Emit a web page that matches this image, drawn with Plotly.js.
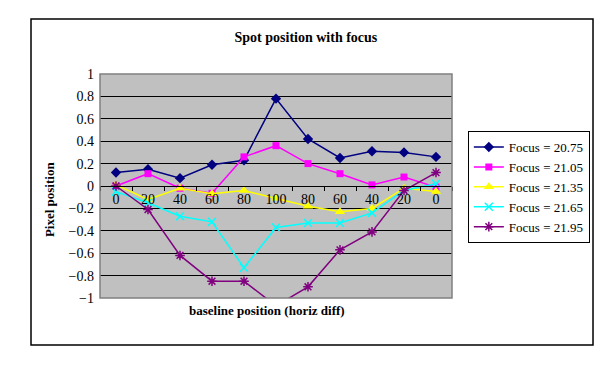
<!DOCTYPE html>
<html>
<head>
<meta charset="utf-8">
<script src="https://cdn.plot.ly/plotly-3.0.1.min.js"></script>
<style>
  body { margin: 0; background: #fff; }
  #chart { width: 616px; height: 382px; }
</style>
</head>
<body>
<div id="chart"></div>
<script>
// baseline positions (the scan goes 0 -> 100 -> 0)
const baselineLabels = ['0', '20', '40', '60', '80', '100', '80', '60', '40', '20', '0'];
const steps = [0, 1, 2, 3, 4, 5, 6, 7, 8, 9, 10];

const focus2075 = [0.12, 0.15, 0.07, 0.19, 0.23, 0.78, 0.42, 0.25, 0.31, 0.30, 0.26];
const focus2105 = [0.00, 0.11, -0.02, -0.065, 0.26, 0.36, 0.20, 0.11, 0.01, 0.08, -0.01];
const focus2135 = [0.01, -0.12, -0.02, -0.07, -0.04, -0.11, -0.18, -0.23, -0.20, -0.02, -0.05];
const focus2165 = [-0.05, -0.15, -0.27, -0.32, -0.73, -0.37, -0.33, -0.33, -0.24, -0.04, 0.02];
const focus2195 = [0.00, -0.21, -0.62, -0.85, -0.85, -1.07, -0.90, -0.57, -0.41, -0.04, 0.12];

const serif = 'Liberation Serif, Times New Roman, serif';

function series(name, y, color, symbol, size, open) {
    return {
        x: steps,
        y: y,
        name: name,
        type: 'scatter',
        mode: 'lines+markers',
        line: { color: color, width: 1.5 },
        marker: open
            ? { symbol: symbol, size: size, color: color, line: { color: color, width: 1.5 } }
            : { symbol: symbol, size: size, color: color }
    };
}

const traces = [
    series('Focus = 20.75', focus2075, '#000080', 'diamond', 8, false),
    series('Focus = 21.05', focus2105, '#ff00ff', 'square', 7, false),
    series('Focus = 21.35', focus2135, '#ffff00', 'triangle-up', 9, false),
    series('Focus = 21.65', focus2165, '#00ffff', 'x-thin-open', 8, true),
    series('Focus = 21.95', focus2195, '#800080', 'asterisk-open', 8, true)
];

const layout = {
    width: 616,
    height: 382,
    margin: { l: 100, r: 164, t: 74, b: 84 },
    paper_bgcolor: '#ffffff',
    plot_bgcolor: '#c0c0c0',
    font: { family: serif, size: 13, color: '#000' },
    showlegend: true,
    title: {
        text: '<b>Spot position with focus</b>',
        font: { family: serif, size: 14, color: '#000' },
        xref: 'paper', yref: 'paper',
        x: 0.585, y: 1.196,
        xanchor: 'center', yanchor: 'middle'
    },
    xaxis: {
        range: [-0.5, 10.5],
        tickmode: 'array',
        tickvals: steps,
        ticktext: baselineLabels,
        ticks: '',
        showgrid: false,
        zeroline: false,
        showline: true,
        linecolor: '#000',
        linewidth: 1,
        anchor: 'free',
        position: 0.5,
        tickfont: { family: serif, size: 14, color: '#000' },
        minor: { tick0: -0.5, dtick: 1, ticks: 'outside', ticklen: 4, tickcolor: '#000', showgrid: false }
    },
    yaxis: {
        range: [-1, 1],
        dtick: 0.2,
        tick0: 0,
        showgrid: true,
        gridcolor: '#000',
        gridwidth: 1,
        zeroline: false,
        showline: false,
        ticks: '',
        ticklabelstandoff: 5,
        tickfont: { family: serif, size: 14, color: '#000' }
    },
    legend: {
        x: 1.045, y: 0.745,
        xanchor: 'left', yanchor: 'top',
        bgcolor: '#ffffff',
        bordercolor: '#000',
        borderwidth: 1,
        font: { family: serif, size: 13, color: '#000' },
        tracegroupgap: 0,
        itemwidth: 30
    },
    annotations: [
        {
            text: '<b>baseline position (horiz diff)</b>',
            xref: 'paper', yref: 'paper',
            x: 0.474, y: -0.098,
            showarrow: false,
            font: { family: serif, size: 13, color: '#000' }
        },
        {
            text: '<b>Pixel position</b>',
            xref: 'paper', yref: 'paper',
            x: -0.17, y: 0.44,
            textangle: -90,
            showarrow: false,
            font: { family: serif, size: 13, color: '#000' }
        }
    ],
    shapes: [
        // plot area border
        { type: 'rect', xref: 'paper', yref: 'paper', x0: 0, x1: 1, y0: 0, y1: 1,
          line: { color: '#808080', width: 1.5 }, layer: 'above' },
        // outer chart frame
        { type: 'rect', xref: 'paper', yref: 'paper', x0: -0.196, x1: 1.4006, y0: -0.2098, y1: 1.2455,
          line: { color: '#000', width: 1.5 }, layer: 'below' }
    ]
};

Plotly.newPlot('chart', traces, layout, { staticPlot: true, displayModeBar: false });
</script>
</body>
</html>
